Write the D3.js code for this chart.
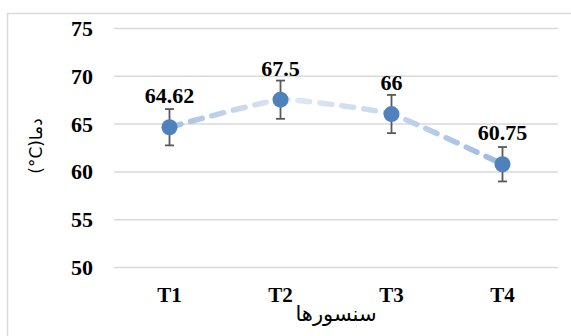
<!DOCTYPE html>
<html>
<head>
<meta charset="utf-8">
<script src="https://cdn.jsdelivr.net/npm/d3@7"></script>
<style>
  html, body { margin: 0; padding: 0; background: #fff; }
  svg { display: block; }
</style>
</head>
<body>
<svg id="chart" width="571" height="336"></svg>
<script>
// Sensor temperatures with their error margins
const sensors = ["T1", "T2", "T3", "T4"];
const temperatures = [64.62, 67.5, 66, 60.75];
const errorMargins = [1.9, 2.0, 2.0, 1.8];
const yTicks = [50, 55, 60, 65, 70, 75];
const xTitle = "سنسورها";
// left-to-right mark keeps "°C" together inside the right-to-left title
const yTitle = "دما(\u200E°C)";

const svg = d3.select("#chart");
const W = 571, H = 336;
const plot = { left: 114, right: 558, top: 28, bottom: 267 };

const serif = "'Liberation Serif', 'Times New Roman', serif";

// chart frame
svg.append("rect")
  .attr("x", 7.5).attr("y", 13.5)
  .attr("width", W + 20).attr("height", H + 20)
  .attr("fill", "#fff")
  .attr("stroke", "#d9d9d9").attr("stroke-width", 1.5);

const x = d3.scaleBand().domain(sensors).range([plot.left, plot.right]).padding(0);
const y = d3.scaleLinear().domain([50, 75]).range([plot.bottom, plot.top]);
const cx = s => x(s) + x.bandwidth() / 2;

// gridlines and value axis
const yAxis = svg.append("g")
  .attr("transform", `translate(${plot.left},0)`)
  .call(d3.axisLeft(y).tickValues(yTicks).tickSize(-(plot.right - plot.left)).tickPadding(21).tickFormat(d3.format("d")));
yAxis.select(".domain").remove();
yAxis.selectAll(".tick line").attr("stroke", "#d9d9d9").attr("stroke-width", 1.5);
yAxis.selectAll(".tick text")
  .attr("fill", "#000")
  .style("font-family", serif)
  .style("font-weight", "bold")
  .style("font-size", "22px")
  .attr("dy", "0.34em");

// category axis
const xAxis = svg.append("g")
  .attr("transform", `translate(0,${plot.bottom})`)
  .call(d3.axisBottom(x).tickSize(0).tickPadding(35));
xAxis.select(".domain").remove();
xAxis.selectAll(".tick text")
  .attr("fill", "#000")
  .style("font-family", serif)
  .style("font-weight", "bold")
  .style("font-size", "21px")
  .attr("dy", "0");

// axis titles
svg.append("text")
  .attr("x", 336).attr("y", 321)
  .attr("text-anchor", "middle")
  .style("font-family", "'DejaVu Sans', sans-serif")
  .style("font-size", "21px")
  .attr("fill", "#000")
  .text(xTitle);

svg.append("text")
  .attr("transform", "translate(42,146) rotate(-90)")
  .attr("text-anchor", "middle")
  .attr("direction", "rtl")
  .style("font-family", "'DejaVu Sans', sans-serif")
  .style("font-size", "17px")
  .attr("fill", "#000")
  .text(yTitle);

// gradient for the connecting line
const defs = svg.append("defs");
const grad = defs.append("linearGradient")
  .attr("id", "lineGrad")
  .attr("gradientUnits", "userSpaceOnUse")
  .attr("x1", cx(sensors[0])).attr("x2", cx(sensors[sensors.length - 1]))
  .attr("y1", 0).attr("y2", 0);
grad.append("stop").attr("offset", 0).attr("stop-color", "#a3bfe2");
grad.append("stop").attr("offset", 0.35).attr("stop-color", "#e0e9f4");
grad.append("stop").attr("offset", 0.65).attr("stop-color", "#c8d9ee");
grad.append("stop").attr("offset", 1).attr("stop-color", "#9ab9e0");

const data = sensors.map((s, i) => ({ s, v: temperatures[i], e: errorMargins[i] }));

const line = d3.line()
  .x(d => cx(d.s))
  .y(d => y(d.v))
  .curve(d3.curveCardinal.tension(0.6));

svg.append("path")
  .datum(data)
  .attr("d", line)
  .attr("fill", "none")
  .attr("stroke", "url(#lineGrad)")
  .attr("stroke-width", 5.5)
  .attr("stroke-linecap", "round")
  .attr("stroke-dasharray", "12 10");

// error bars
const eb = svg.append("g").attr("stroke", "#595959").attr("stroke-width", 1.8);
data.forEach(d => {
  const px = cx(d.s);
  eb.append("line").attr("x1", px).attr("x2", px).attr("y1", y(d.v + d.e)).attr("y2", y(d.v - d.e));
  eb.append("line").attr("x1", px - 4.5).attr("x2", px + 4.5).attr("y1", y(d.v + d.e)).attr("y2", y(d.v + d.e));
  eb.append("line").attr("x1", px - 4.5).attr("x2", px + 4.5).attr("y1", y(d.v - d.e)).attr("y2", y(d.v - d.e));
});

// markers
svg.append("g").selectAll("circle")
  .data(data).join("circle")
  .attr("cx", d => cx(d.s))
  .attr("cy", d => y(d.v))
  .attr("r", 8)
  .attr("fill", "#4f81bd");

// value labels
svg.append("g").selectAll("text")
  .data(data).join("text")
  .attr("x", d => cx(d.s))
  .attr("y", d => y(d.v) - 24)
  .attr("text-anchor", "middle")
  .style("font-family", serif)
  .style("font-weight", "bold")
  .style("font-size", "22px")
  .attr("fill", "#000")
  .text(d => String(d.v));
</script>
</body>
</html>
